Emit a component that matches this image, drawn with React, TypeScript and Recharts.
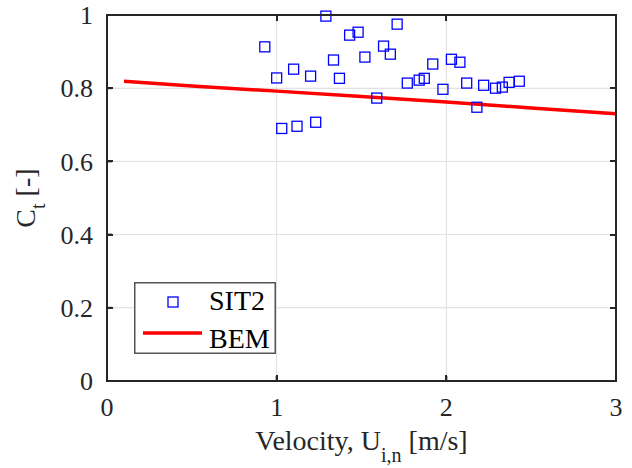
import {
  ComposedChart,
  Line,
  Scatter,
  XAxis,
  YAxis,
  CartesianGrid,
  Legend,
} from "recharts";

// measured points (SIT2)
const sitVelocity = [
  0.93, 1.0, 1.03, 1.1, 1.12, 1.2, 1.23, 1.29, 1.335, 1.37,
  1.43, 1.48, 1.52, 1.59, 1.63, 1.67, 1.71, 1.77, 1.84, 1.87,
  1.92, 1.98, 2.03, 2.08, 2.12, 2.18, 2.22, 2.29, 2.33, 2.37, 2.43,
];
const sitCt = [
  0.913, 0.828, 0.69, 0.852, 0.696, 0.833, 0.707, 0.997, 0.877, 0.827,
  0.945, 0.953, 0.885, 0.773, 0.915, 0.893, 0.975, 0.814, 0.822, 0.827,
  0.866, 0.797, 0.879, 0.871, 0.814, 0.748, 0.808, 0.8, 0.803, 0.816, 0.819,
];

// BEM prediction
const bemVelocity = [0.1, 0.5, 1.0, 1.5, 2.0, 2.5, 3.0];
const bemCt = [0.819, 0.806, 0.792, 0.777, 0.762, 0.746, 0.73];

const xTicks = [0, 1, 2, 3];
const yTicks = [0, 0.2, 0.4, 0.6, 0.8, 1];

const FONT = '"Liberation Serif", "Times New Roman", serif';
const AXIS = "#262626";
const GRID = "#e3e3e3";

const W = 632;
const H = 468;
const MARGIN = { top: 15, right: 16, bottom: 0, left: 0 };
const Y_AXIS_W = 107;
const X_AXIS_H = 87;
const PLOT_LEFT = MARGIN.left + Y_AXIS_W;
const PLOT_RIGHT = W - MARGIN.right;
const PLOT_TOP = MARGIN.top;
const PLOT_BOTTOM = H - MARGIN.bottom - X_AXIS_H;
const PLOT_W = PLOT_RIGHT - PLOT_LEFT;
const PLOT_H = PLOT_BOTTOM - PLOT_TOP;

const xMin = xTicks[0];
const xMax = xTicks[xTicks.length - 1];
const yMin = yTicks[0];
const yMax = yTicks[yTicks.length - 1];
const fx = (v: number) => PLOT_LEFT + ((v - xMin) / (xMax - xMin)) * PLOT_W;
const fy = (v: number) => PLOT_BOTTOM - ((v - yMin) / (yMax - yMin)) * PLOT_H;

const sitData = sitVelocity.map((x, i) => ({ x, y: sitCt[i] }));
const bemData = bemVelocity.map((x, i) => ({ x, bem: bemCt[i] }));

const Square = (props: any) => {
  const { cx, cy } = props;
  if (cx == null || cy == null) return <g />;
  return (
    <rect
      x={cx - 5}
      y={cy - 5}
      width={10}
      height={10}
      fill="none"
      stroke="#0000ff"
      strokeWidth={1.3}
    />
  );
};

const XTick = (props: any) => {
  const { x, y, payload } = props;
  return (
    <text x={x} y={y} dy="0.71em" textAnchor="middle" fontFamily={FONT} fontSize={26} fill={AXIS}>
      {String(payload.value)}
    </text>
  );
};

const YTick = (props: any) => {
  const { x, y, payload } = props;
  return (
    <text x={x} y={y} dy="0.355em" textAnchor="end" fontFamily={FONT} fontSize={26} fill={AXIS}>
      {String(payload.value)}
    </text>
  );
};

const XLabel = (props: any) => {
  const { x, y, width } = props.viewBox;
  return (
    <text
      x={x + width / 2}
      y={y + 69}
      textAnchor="middle"
      fontFamily={FONT}
      fontSize={28}
      fill={AXIS}
    >
      Velocity, U
      <tspan fontSize={20} dy={12}>i,n</tspan>
      <tspan dy={-12}> [m/s]</tspan>
    </text>
  );
};

const YLabel = (props: any) => {
  const { y, height } = props.viewBox;
  const cx = 35;
  const cy = y + height / 2;
  return (
    <text
      x={cx}
      y={cy}
      transform={`rotate(-90, ${cx}, ${cy})`}
      textAnchor="middle"
      fontFamily={FONT}
      fontSize={28}
      fill={AXIS}
    >
      C
      <tspan fontSize={20} dy={10}>t</tspan>
      <tspan dy={-10}> [-]</tspan>
    </text>
  );
};

const LegendBox = () => (
  <svg width={142} height={72} style={{ display: "block" }}>
    <rect x={0.75} y={0.75} width={140.5} height={70.5} fill="#fff" stroke="#555" strokeWidth={1.5} />
    <rect x={34} y={15} width={10} height={10} fill="none" stroke="#0000ff" strokeWidth={1.3} />
    <text x={75} y={28} fontFamily={FONT} fontSize={28} fill="#000">SIT2</text>
    <line x1={9} y1={51} x2={68} y2={51} stroke="#ff0000" strokeWidth={3.5} />
    <text x={75} y={66} fontFamily={FONT} fontSize={28} fill="#000">BEM</text>
  </svg>
);

const abs = (s: any) => ({ position: "absolute" as const, pointerEvents: "none" as const, ...s });

// light grid under the plot
const GridLayer = () => (
  <div style={abs({ left: 0, top: 0, width: W, height: H })}>
    {xTicks.slice(1, -1).map((t) => (
      <div key={`gx${t}`} style={abs({ left: fx(t) - 0.5, top: PLOT_TOP, width: 1, height: PLOT_H, background: GRID })} />
    ))}
    {yTicks.slice(1, -1).map((t) => (
      <div key={`gy${t}`} style={abs({ left: PLOT_LEFT, top: fy(t) - 0.5, width: PLOT_W, height: 1, background: GRID })} />
    ))}
  </div>
);

// box round the plot with inward ticks on all sides
const FrameLayer = () => (
  <div style={abs({ left: 0, top: 0, width: W, height: H })}>
    <div
      style={abs({
        left: PLOT_LEFT - 1,
        top: PLOT_TOP - 1,
        width: PLOT_W + 2,
        height: PLOT_H + 2,
        border: `2px solid ${AXIS}`,
        boxSizing: "border-box",
      })}
    />
    {xTicks.map((t) => (
      <div key={`tt${t}`} style={abs({ left: fx(t) - 1, top: PLOT_TOP, width: 2, height: 6, background: AXIS })} />
    ))}
    {xTicks.map((t) => (
      <div key={`tb${t}`} style={abs({ left: fx(t) - 1, top: PLOT_BOTTOM - 6, width: 2, height: 6, background: AXIS })} />
    ))}
    {yTicks.map((t) => (
      <div key={`tr${t}`} style={abs({ left: PLOT_RIGHT - 6, top: fy(t) - 1, width: 6, height: 2, background: AXIS })} />
    ))}
    {yTicks.map((t) => (
      <div key={`tl${t}`} style={abs({ left: PLOT_LEFT, top: fy(t) - 1, width: 6, height: 2, background: AXIS })} />
    ))}
  </div>
);

export default function App() {
  const line = { stroke: AXIS, strokeWidth: 2 };
  return (
    <div style={{ position: "absolute", left: 0, top: 0, width: W, height: H, background: "#fff" }}>
      <GridLayer />
      <ComposedChart width={W} height={H} margin={MARGIN}>
        <CartesianGrid stroke={GRID} strokeWidth={1} />
        <XAxis
          type="number"
          dataKey="x"
          domain={[0, 3]}
          ticks={xTicks}
          height={X_AXIS_H}
          tick={XTick}
          tickSize={-5}
          tickMargin={22}
          axisLine={line}
          tickLine={line}
          label={XLabel}
        />
        <YAxis
          type="number"
          domain={[0, 1]}
          ticks={yTicks}
          width={Y_AXIS_W}
          tick={YTick}
          tickSize={-5}
          tickMargin={19}
          axisLine={line}
          tickLine={line}
          label={YLabel}
        />
        <Line
          data={bemData}
          dataKey="bem"
          name="BEM"
          type="linear"
          stroke="#ff0000"
          strokeWidth={3.5}
          dot={false}
          activeDot={false}
          isAnimationActive={false}
        />
        <Scatter
          data={sitData}
          dataKey="y"
          name="SIT2"
          shape={Square}
          isAnimationActive={false}
        />
        <Legend
          layout="horizontal"
          align="center"
          verticalAlign="middle"
          content={LegendBox}
          wrapperStyle={{ left: 134, top: 282, width: 142, height: 72 }}
        />
      </ComposedChart>
      <FrameLayer />
    </div>
  );
}
